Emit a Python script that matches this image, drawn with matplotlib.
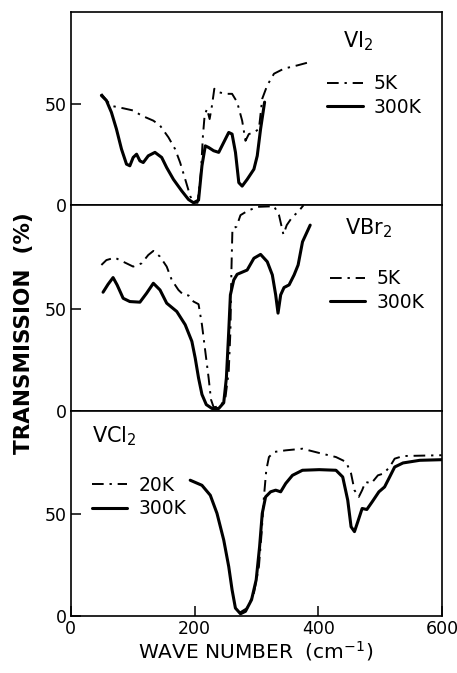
import numpy as np
import matplotlib
matplotlib.use("Agg")
import matplotlib.pyplot as plt

plt.rcParams["font.family"] = ["DejaVu Sans"]
plt.rcParams["mathtext.default"] = "regular"

# ---- VI2 spectra (wave number in cm^-1, transmission in %) ----
vi2_5k_x = [49.4, 60.2, 68.3, 84.6, 100.8, 114.4, 133.4, 144.2, 157.8, 168.6, 176.7,
            184.9, 193, 198.4, 204.9, 210.3, 213.6, 216.3, 220.1, 224.4, 228.2, 232,
            239.1, 249.9, 260.7, 268.9, 277, 282.4, 287.8, 296, 304.1, 309.5, 317.6,
            328.5, 344.7, 366.4, 390.8]
vi2_5k_y = [54.8, 50.7, 48.7, 47.7, 46.6, 44.1, 41.6, 39.2, 33.4, 27.6, 21,
            12.8, 4.5, 1.2, 1.2, 16, 34.2, 44.1, 47.4, 42.4, 49, 57.3,
            55.6, 54.8, 54.8, 50.7, 41.6, 31.7, 35, 35.8, 37.5, 52.4, 59,
            64.7, 67.2, 68.8, 70.8]
vi2_300k_x = [49.4, 57.5, 65.6, 73.7, 81.9, 90, 95.4, 100.8, 106.3, 111.7, 117.1,
              125.2, 136, 146.9, 155, 165.9, 179.4, 190.3, 198.4, 206.5, 212,
              217.4, 222.8, 230.9, 239.1, 247.2, 255.3, 260.7, 266.2, 271.6, 277,
              285.1, 296, 301.4, 306.8, 313.3]
vi2_300k_y = [54, 51.5, 45.7, 37.5, 27.6, 20.2, 19.4, 23.5, 25.1, 21.8, 21,
              24.3, 26, 23.5, 18.5, 12.7, 7, 2.8, 1.2, 2.5, 19.4,
              29.2, 28.4, 26.8, 26, 30.9, 35.8, 35, 26, 11.1, 9.4,
              12.7, 17.7, 24.3, 37.5, 50.7]

# ---- VBr2 spectra ----
vbr2_5k_x = [49.4, 57.5, 71.0, 84.6, 100.8, 114.4, 125.2, 133.4, 144.2, 155, 163.2,
             174, 182.1, 190.3, 198.4, 206.5, 212, 217.4, 222.8, 226.6, 230.9,
             241.8, 249.9, 255.3, 258, 259.6, 261.3, 267.8, 274.3, 285.1, 301.4,
             328.5, 336.6, 343.7, 349.1, 358.3, 367.5, 376.2]
vbr2_5k_y = [71.6, 74, 75.2, 73.2, 70.8, 72.4, 76.5, 78.5, 75.7, 70.8, 64.2,
             59.3, 56.9, 56.6, 53.6, 52.3, 42.2, 29.1, 16, 5.4, 1.6,
             2.1, 6.2, 19.3, 38.9, 68.3, 89.6, 90.4, 96.1, 98.1, 100.2,
             100.5, 96.1, 86.6, 91.2, 95.3, 97.7, 101]
vbr2_300k_x = [52.1, 60.2, 68.3, 74.8, 84.6, 95.4, 111.7, 122.5, 133.4, 144.2, 155,
               171.3, 184.9, 195.7, 201.1, 206.5, 212, 219, 228.2, 239.1, 247.2,
               251.5, 255.3, 258, 263.4, 268.9, 285.1, 296, 306.8, 317.6, 325.8,
               331.2, 335, 339.3, 344.7, 352.9, 361, 367.5, 374.6, 387]
vbr2_300k_y = [58.2, 62.1, 65.4, 61.8, 55.2, 53.6, 53.3, 57.7, 62.6, 59.3, 52.8,
               48.7, 42.2, 34, 25.8, 16, 7.9, 2.9, 1, 1, 3.8,
               16, 38.9, 56.9, 64.2, 67, 69.1, 74.9, 76.8, 73.2, 66.7,
               56.9, 47.9, 56.9, 60.5, 61.8, 66.7, 71.6, 83, 91.2]

# ---- VCl2 spectra ----
vcl2_20k_x = [271.6, 285.1, 296, 304.1, 308.4, 312.2, 316, 320.3, 328.5, 347.4,
              374.5, 401.6, 428.7, 445, 453.1, 458.6, 465.6, 471, 476.4, 485.7,
              496.5, 505.7, 515.5, 523.6, 537.1, 599.5]
vcl2_20k_y = [1.3, 3.8, 11.1, 24.2, 40.5, 58.5, 71.6, 78.1, 80.6, 81.4,
              82.2, 80.1, 78.1, 75.7, 70, 61.8, 58.5, 61.8, 65.9, 65.1,
              69.1, 70, 73.2, 77.3, 78.6, 79]
vcl2_300k_x = [193, 212, 225.5, 236.3, 247.2, 255.3, 260.7, 266.1, 274.3, 282.4,
               292.2, 299.7, 305.2, 309.5, 314.9, 323, 331.2, 339.3, 347.4, 358.3,
               374.5, 401.6, 428.7, 439.6, 447.7, 453.1, 458.6, 464, 471, 478.6,
               487.3, 498.1, 507.3, 515.5, 523.6, 537.1, 564.2, 599.5]
vcl2_300k_y = [66.7, 64.2, 59.3, 50.4, 37.3, 24.2, 12.8, 3.8, 1, 2.2,
               7.9, 17.7, 34, 50.4, 58.5, 61, 61.8, 61, 65.1, 69.1,
               71.6, 71.9, 71.6, 68.3, 56.9, 43.8, 41.4, 46.3, 52.8, 52.3,
               56.1, 61, 63.4, 68.3, 73.2, 75.2, 76.5, 76.8]

x_ticks = [0, 200, 400, 600]
y_ticks = [0, 50]

dashdot = (0, (6, 3, 1.2, 3))
lw_dd, lw_solid = 1.4, 2.2

fig = plt.figure(figsize=(4.57, 6.73), dpi=100)
gs = fig.add_gridspec(3, 1, height_ratios=[95, 101, 101], hspace=0,
                      left=0.155, right=0.967, bottom=0.085, top=0.982)
axes = [fig.add_subplot(gs[i]) for i in range(3)]

panels = [
    (vi2_5k_x, vi2_5k_y, "5K", vi2_300k_x, vi2_300k_y, (0, 95),
     "VI$_2$", (0.733, 0.85), (0.69, 0.568)),
    (vbr2_5k_x, vbr2_5k_y, "5K", vbr2_300k_x, vbr2_300k_y, (0, 101),
     "VBr$_2$", (0.739, 0.89), (0.698, 0.585)),
    (vcl2_20k_x, vcl2_20k_y, "20K", vcl2_300k_x, vcl2_300k_y, (0, 101),
     "VCl$_2$", (0.056, 0.875), (0.056, 0.579)),
]

for ax, (cx, cy, clab, hx, hy, ylim, name, name_pos, leg_pos) in zip(axes, panels):
    ax.plot(cx, cy, color="black", lw=lw_dd, linestyle=dashdot, label=clab,
            clip_on=False)
    ax.plot(hx, hy, color="black", lw=lw_solid, label="300K",
            solid_joinstyle="round", solid_capstyle="round")
    ax.set_xlim(0, 600)
    ax.set_ylim(*ylim)
    ax.set_yticks(y_ticks)
    ax.set_xticks(x_ticks)
    ax.tick_params(direction="in", length=7.5, width=1.1, labelsize=12.5, pad=3)
    ax.tick_params(axis="x", which="both", bottom=False, labelbottom=False)
    for s in ax.spines.values():
        s.set_linewidth(1.2)
    ax.text(*name_pos, name, transform=ax.transAxes, fontsize=15,
            ha="left", va="center")
    ax.legend(loc="center left", bbox_to_anchor=leg_pos, frameon=False,
              fontsize=13.5, handlelength=1.9, handletextpad=0.6,
              labelspacing=0.25, borderpad=0, borderaxespad=0)

axes[2].tick_params(axis="x", bottom=True, labelbottom=True, length=7.5)

fig.text(0.052, 0.505, "TRANSMISSION  (%)", rotation=90, fontsize=15.5,
         fontweight="bold", ha="center", va="center")
fig.text(0.56, 0.032, "WAVE NUMBER  (cm$^{-1}$)", fontsize=14.5,
         ha="center", va="center")

fig.savefig("out.png", dpi=100)
